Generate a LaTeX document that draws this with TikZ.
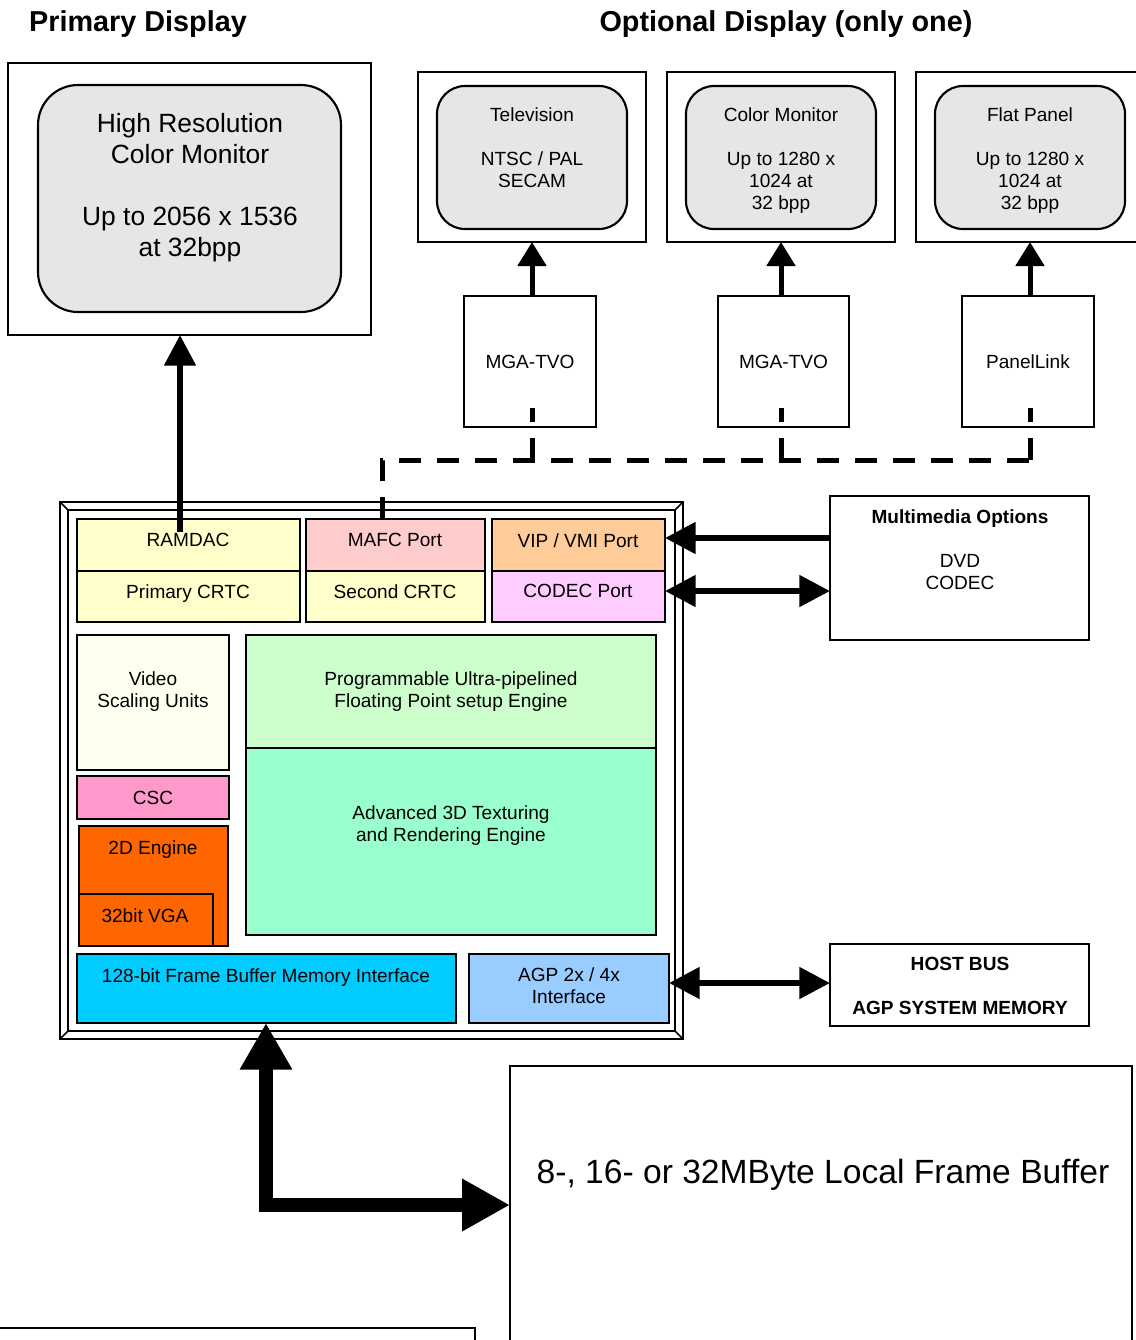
\documentclass[tikz,border=0pt]{standalone}
\usepackage{fontspec}
\setmainfont{Liberation Sans}
\usetikzlibrary{arrows.meta}

\definecolor{screengray}{HTML}{E6E6E6}
\definecolor{paleyellow}{HTML}{FFFFCC}
\definecolor{palered}{HTML}{FFCCCC}
\definecolor{paleorange}{HTML}{FFCC99}
\definecolor{palemagenta}{HTML}{FFCCFF}
\definecolor{ivory}{HTML}{FFFFF0}
\definecolor{pink}{HTML}{FF99CC}
\definecolor{deeporange}{HTML}{FF6600}
\definecolor{palegreen}{HTML}{CCFFCC}
\definecolor{mintgreen}{HTML}{99FFCC}
\definecolor{skyblue}{HTML}{00CCFF}
\definecolor{paleblue}{HTML}{99CCFF}

\begin{document}
\begin{tikzpicture}[x=0.75pt,y=-0.75pt,
  pbox/.style n args={4}{rectangle, inner sep=0pt, outer sep=0pt,
    minimum width={(#3-#1)*0.75pt}, minimum height={(#4-#2)*0.75pt},
    at={({(#1+#3)/2},{(#2+#4)/2})}},
  outerbox/.style={draw=black, line width=1.1pt, fill=white},
  thinbox/.style={draw=black, line width=0.9pt},
  screen/.style={draw=black, line width=1.6pt, fill=screengray},
  blk/.style={draw=black, line width=1.5pt},
  framel/.style={draw=black, line width=1.1pt},
  txt/.style={font=\fontsize{14.3}{16.5}\selectfont, align=center, inner sep=0pt},
  bigtxt/.style={font=\fontsize{19.8}{23.25}\selectfont, align=center, inner sep=0pt},
  titletxt/.style={font=\fontsize{21.6}{26}\selectfont\bfseries, inner sep=0pt},
  fbtxt/.style={font=\fontsize{25.2}{30}\selectfont, inner sep=0pt},
  tiparrow/.style={line width=3.75pt, -{Triangle[length=18pt,width=21pt]}},
  medarrow/.style={line width=4.5pt, -{Triangle[length=23pt,width=23pt]}},
  medboth/.style={line width=4.5pt, {Triangle[length=23pt,width=23pt]}-{Triangle[length=23pt,width=23pt]}},
  bigboth/.style={line width=10.5pt, line join=miter, {Triangle[length=35pt,width=37pt]}-{Triangle[length=36pt,width=37pt]}},
  dashl/.style={line width=3.75pt, dash pattern=on 16.5pt off 12pt}
]
\useasboundingbox (0,0) rectangle (1136,1340);

% headings
\node[titletxt, anchor=north] (ttlprim) at (138,10) {Primary Display};
\node[titletxt, anchor=north] (ttlopt) at (786,10) {Optional Display (only one)};

% primary monitor
\node[outerbox, pbox={8}{63}{371}{335}] (primout) {};
\node[screen, rounded corners=30pt, pbox={38}{85}{341}{312}] (primscr) {};
\node[bigtxt, anchor=north] (primtxt) at (190,113)
  {High Resolution\\Color Monitor\\[23.25pt]Up to 2056 x 1536\\at 32bpp};

% optional displays
\node[outerbox, pbox={418}{72}{646}{242}] (tvout) {};
\node[screen, rounded corners=21pt, pbox={437}{86}{627}{229}] (tvscr) {};
\node[txt, anchor=north] (tvtxt) at (532,107) {Television\\[16.5pt]NTSC / PAL\\SECAM};

\node[outerbox, pbox={667}{72}{895}{242}] (cmout) {};
\node[screen, rounded corners=21pt, pbox={686}{86}{876}{229}] (cmscr) {};
\node[txt, anchor=north] (cmtxt) at (781,107) {Color Monitor\\[16.5pt]Up to 1280 x\\1024 at\\32 bpp};

\node[outerbox, pbox={916}{72}{1160}{242}] (fpout) {};
\node[screen, rounded corners=21pt, pbox={935}{86}{1125}{229}] (fpscr) {};
\node[txt, anchor=north] (fptxt) at (1030,107) {Flat Panel\\[16.5pt]Up to 1280 x\\1024 at\\32 bpp};

% encoders
\node[outerbox, txt, pbox={464}{296}{596}{427}] (tvo1) {MGA-TVO};
\node[outerbox, txt, pbox={718}{296}{849}{427}] (tvo2) {MGA-TVO};
\node[outerbox, txt, pbox={962}{296}{1094}{427}] (plink) {PanelLink};

% chip outline (bevelled frame)
\node[framel, fill=white, pbox={60}{502}{683}{1039}] (chip) {};
\node[framel, pbox={68}{510}{675}{1031}] (chipin) {};
\draw[framel] (chip.north west) -- (chipin.north west);
\draw[framel] (chip.north east) -- (chipin.north east);
\draw[framel] (chip.south west) -- (chipin.south west);
\draw[framel] (chip.south east) -- (chipin.south east);

% display pipeline blocks
\node[blk, fill=paleyellow, pbox={77}{519}{300}{571}] (ramdac) {};
\node[txt, anchor=north] (ramdactxt) at (188,533) {RAMDAC};
\node[blk, fill=paleyellow, pbox={77}{571}{300}{622}] (crtc1) {};
\node[txt, anchor=north] (crtc1txt) at (188,584) {Primary CRTC};
\node[blk, fill=palered, pbox={306}{519}{485}{571}] (mafc) {};
\node[txt, anchor=north] (mafctxt) at (395,533) {MAFC Port};
\node[blk, fill=paleyellow, pbox={306}{571}{485}{622}] (crtc2) {};
\node[txt, anchor=north] (crtc2txt) at (395,584) {Second CRTC};
\node[blk, fill=paleorange, pbox={492}{519}{665}{571}] (vip) {};
\node[txt, anchor=north] (viptxt) at (578,533) {VIP / VMI Port};
\node[blk, fill=palemagenta, pbox={492}{571}{665}{622}] (codec) {};
\node[txt, anchor=north] (codectxt) at (578,584) {CODEC Port};

% video and 2D blocks
\node[blk, fill=ivory, pbox={77}{635}{229}{770}] (vsu) {};
\node[txt, anchor=north] (vsutxt) at (153,671) {Video\\Scaling Units};
\node[blk, fill=pink, txt, pbox={77}{776}{229}{819}] (csc) {CSC};
\node[blk, fill=deeporange, pbox={79}{826}{228}{946}] (eng2d) {};
\node[txt, anchor=north] (eng2dtxt) at (153,840) {2D Engine};
\node[blk, fill=deeporange, pbox={79}{894}{213}{946}] (vga) {};
\node[txt, anchor=north] (vgatxt) at (145,908) {32bit VGA};

% 3D blocks
\node[blk, fill=palegreen, pbox={246}{635}{656}{748}] (setup) {};
\node[txt, anchor=north] (setuptxt) at (451,671) {Programmable Ultra-pipelined\\Floating Point setup Engine};
\node[blk, fill=mintgreen, pbox={246}{748}{656}{935}] (tex3d) {};
\node[txt, anchor=north] (tex3dtxt) at (451,805) {Advanced 3D Texturing\\and Rendering Engine};

% memory and bus interfaces
\node[blk, fill=skyblue, pbox={77}{954}{456}{1023}] (fbi) {};
\node[txt, anchor=north] (fbitxt) at (266,968) {128-bit Frame Buffer Memory Interface};
\node[blk, fill=paleblue, pbox={469}{954}{669}{1023}] (agp) {};
\node[txt, anchor=north] (agptxt) at (569,967) {AGP 2x / 4x\\Interface};

% external units
\node[outerbox, pbox={830}{496}{1089}{640}] (mm) {};
\node[txt, anchor=north] (mmtxt) at (960,509) {\textbf{Multimedia Options}\\[16.5pt]DVD\\CODEC};
\node[outerbox, pbox={830}{944}{1089}{1026}] (host) {};
\node[txt, anchor=north] (hosttxt) at (960,957) {\textbf{HOST BUS}\\[16.5pt]\textbf{AGP SYSTEM MEMORY}};
\node[thinbox, pbox={510}{1066}{1132}{1400}] (fbuf) {};
\node[fbtxt, anchor=north] (fbtext) at (823,1159) {8-, 16- or 32MByte Local Frame Buffer};
\node[thinbox, pbox={(-20)}{1328}{475}{1400}] (lowbox) {};

% solid connectors
\draw[tiparrow] (tvo1.north -| 532,0) -- (tvout.south -| 532,0);
\draw[tiparrow] (tvo2.north -| 781,0) -- (cmout.south -| 781,0);
\draw[tiparrow] (plink.north -| 1030,0) -- (fpout.south -| 1030,0);

\coordinate (ramdacTap) at (180,532);
\draw[medarrow] (ramdacTap) -- (ramdacTap |- primout.south);
\draw[medarrow] (mm.west |- 0,538) -- (vip.east |- 0,538);
\draw[medboth] (codec.east |- 0,591) -- (mm.west |- 0,591);
\draw[medboth] (agp.east |- 0,983) -- (host.west |- 0,983);
\draw[bigboth] (fbi.south -| 266,0) |- (fbuf.west |- 0,1205);

% dashed secondary output bus
\coordinate (tvoTap1) at (532,408);
\coordinate (tvoTap2) at (781,408);
\coordinate (plinkTap) at (1030,408);
\coordinate (busJ1) at (532,460);
\coordinate (busJ2) at (781,460);
\coordinate (busJ3) at (1030,460);
\draw[dashl] (mafc.north -| 382,0) -- (382,460) -- (busJ3);
\draw[dashl] (busJ1) -- (tvoTap1);
\draw[dashl] (busJ2) -- (tvoTap2);
\draw[dashl] (busJ3) -- (plinkTap);
\end{tikzpicture}
\end{document}
